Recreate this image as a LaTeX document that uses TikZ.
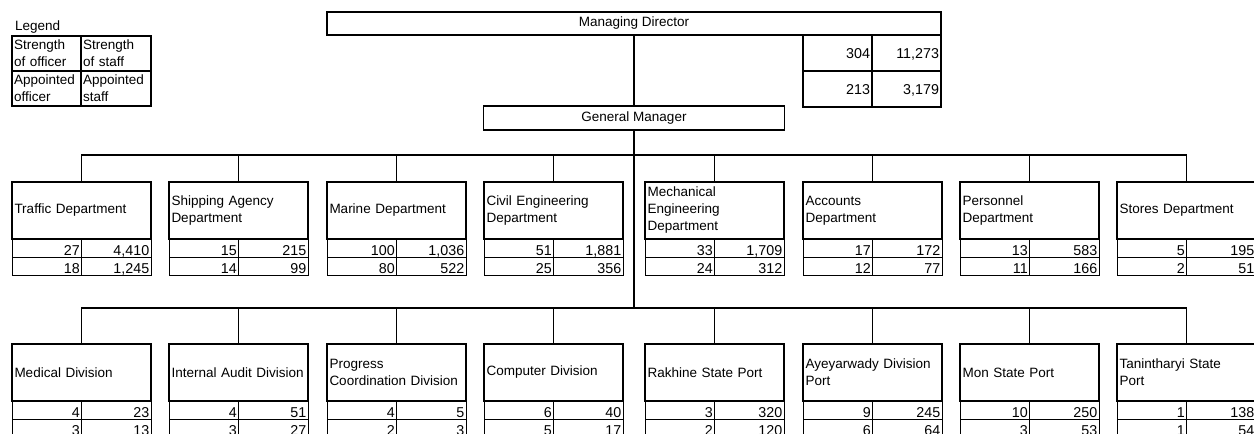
\documentclass[tikz,border=0pt]{standalone}
\usepackage{fontspec}
\setmainfont{Liberation Sans}
\hyphenpenalty=10000
\exhyphenpenalty=10000
\begin{document}
\begin{tikzpicture}[x=1pt,y=-1pt,
  thickbox/.style={draw,line width=1.8pt,outer sep=0pt,inner sep=0pt},
  txt/.style={font=\fontsize{13.5}{17}\selectfont},
  dept/.style={thickbox,txt,anchor=north west,minimum width=139pt,minimum height=57pt,text width=134pt,inner xsep=2.5pt,align=left},
  cell/.style={draw,line width=1pt,outer sep=0pt,anchor=north west,minimum width=69.5pt,minimum height=18pt,text width=66pt,inner xsep=1.75pt,inner ysep=0pt,align=right,text height=15.5pt,text depth=1.5pt,font=\fontsize{14.3}{14.3}\selectfont},
  mdcell/.style={draw,line width=1.3pt,outer sep=0pt,anchor=north west,minimum width=69pt,minimum height=36pt,text width=65pt,inner xsep=2pt,inner ysep=0pt,align=right,text height=10pt,text depth=0pt,font=\fontsize{14.3}{14.3}\selectfont},
  legcell/.style={draw,line width=1.3pt,outer sep=0pt,anchor=north west,minimum height=35pt,inner xsep=2pt,inner ysep=0pt,align=left,font=\fontsize{13.5}{17}\selectfont},
  conn/.style={line width=1.5pt},
]
\clip (0,0) rectangle (1254,434);
\fill[white] (0,0) rectangle (1254,434);

\newcommand{\orgunit}[8]{%
  \node[dept] (#1) at (#2,#3) {#4};
  \node[cell] (#1a) at ({#2},{#3+57}) {#5};
  \node[cell] (#1b) at ({#2+69.5},{#3+57}) {#6};
  \node[cell] (#1c) at ({#2},{#3+75}) {#7};
  \node[cell] (#1d) at ({#2+69.5},{#3+75}) {#8};
}

% Legend
\node[txt,anchor=west,inner sep=0pt] (leg) at (15,27) {Legend};
\node[legcell,text width=65pt] (l1) at (12,36) {Strength\\of officer};
\node[legcell,text width=66pt] (l2) at (81,36) {Strength\\of staff};
\node[legcell,text width=65pt] (l3) at (12,71) {Appointed\\officer};
\node[legcell,text width=66pt] (l4) at (81,71) {Appointed\\staff};

% Top
\node[thickbox,txt,minimum width=614pt,minimum height=23pt] (md) at (634,23.5) {Managing Director};
\node[mdcell] (m1) at (803,35) {304};
\node[mdcell] (m2) at (872,35) {11,273};
\node[mdcell] (m3) at (803,71) {213};
\node[mdcell] (m4) at (872,71) {3,179};
\node[thickbox,txt,minimum width=301pt,minimum height=24pt] (gm) at (634,118) {General Manager};

% Row 1
\orgunit{d1}{12}{182}{Traffic Department}{27}{4,410}{18}{1,245}
\orgunit{d2}{169}{182}{Shipping Agency\\Department}{15}{215}{14}{99}
\orgunit{d3}{327}{182}{Marine Department}{100}{1,036}{80}{522}
\orgunit{d4}{484}{182}{Civil Engineering\\Department}{51}{1,881}{25}{356}
\orgunit{d5}{645}{182}{Mechanical\\Engineering\\Department}{33}{1,709}{24}{312}
\orgunit{d6}{803}{182}{Accounts\\Department}{17}{172}{12}{77}
\orgunit{d7}{960}{182}{Personnel\\Department}{13}{583}{11}{166}
\orgunit{d8}{1117}{182}{Stores Department}{5}{195}{2}{51}

% Row 2
\orgunit{e1}{12}{344}{Medical Division}{4}{23}{3}{13}
\orgunit{e2}{169}{344}{Internal Audit Division}{4}{51}{3}{27}
\orgunit{e3}{327}{344}{Progress\\Coordination Division}{4}{5}{2}{3}
\orgunit{e4}{484}{344}{Computer Division}{6}{40}{5}{17}
\orgunit{e5}{645}{344}{Rakhine State Port}{3}{320}{2}{120}
\orgunit{e6}{803}{344}{Ayeyarwady Division\\Port}{9}{245}{6}{64}
\orgunit{e7}{960}{344}{Mon State Port}{10}{250}{3}{53}
\orgunit{e8}{1117}{344}{Tanintharyi State\\Port}{1}{138}{1}{54}

% Connectors
\coordinate (b1) at (634,155);
\coordinate (b2) at (634,308);
\draw[conn] (md.south) -- (md.south |- gm.north);
\draw[conn] (gm.south) -- (b2);
\draw[conn] (d1.north) |- (b1) -| (d8.north);
\foreach \k in {2,...,7} \draw[conn] (d\k.north) -- (d\k.north |- b1);
\draw[conn] (e1.north) |- (b2) -| (e8.north);
\foreach \k in {2,...,7} \draw[conn] (e\k.north) -- (e\k.north |- b2);
\end{tikzpicture}
\end{document}
